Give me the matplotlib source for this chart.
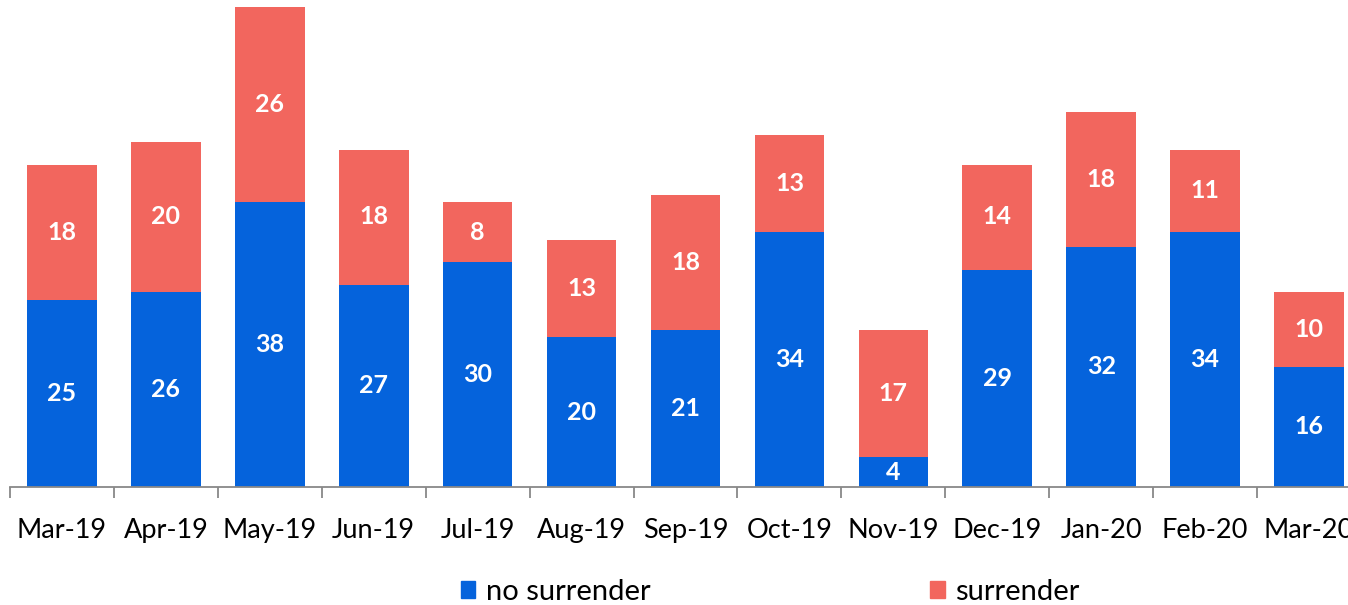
import matplotlib
matplotlib.use("Agg")
import matplotlib.pyplot as plt
from matplotlib.patches import Patch
import numpy as np

categories = ["Mar-19", "Apr-19", "May-19", "Jun-19", "Jul-19", "Aug-19", "Sep-19",
              "Oct-19", "Nov-19", "Dec-19", "Jan-20", "Feb-20", "Mar-20"]
no_surrender = [25, 26, 38, 27, 30, 20, 21, 34, 4, 29, 32, 34, 16]
surrender = [18, 20, 26, 18, 8, 13, 18, 13, 17, 14, 18, 11, 10]

BLUE = "#0563DC"
RED = "#F2665E"
FONT = ["Lato", "DejaVu Sans"]

W, H = 1348, 605
fig = plt.figure(figsize=(W / 100, H / 100), dpi=100)
left_px, right_px, bottom_px, top_px = 10, 1361, 487, 7
ax = fig.add_axes([left_px / W, (H - bottom_px) / H,
                   (right_px - left_px) / W, (bottom_px - top_px) / H])

x = np.arange(len(categories))
ax.bar(x, no_surrender, width=0.67, color=BLUE, label="no surrender")
ax.bar(x, surrender, width=0.67, bottom=no_surrender, color=RED, label="surrender")

for xi, a, b in zip(x, no_surrender, surrender):
    ax.text(xi, a / 2, str(a), ha="center", va="center", color="white",
            fontsize=18, fontweight="bold", family=FONT)
    ax.text(xi, a + b / 2, str(b), ha="center", va="center", color="white",
            fontsize=18, fontweight="bold", family=FONT)

ax.set_xlim(-0.5, len(categories) - 0.5)
ax.set_ylim(0, 64)
for s in ["top", "right", "left"]:
    ax.spines[s].set_visible(False)
ax.spines["bottom"].set_color("#888888")
ax.spines["bottom"].set_linewidth(1.3)
ax.set_yticks([])
ax.set_xticks(x)
ax.set_xticklabels(categories, family=FONT, fontsize=19.5)
ax.tick_params(axis="x", which="major", length=0, pad=22)
ax.set_xticks(np.arange(-0.5, len(categories), 1.0), minor=True)
ax.tick_params(axis="x", which="minor", length=8, width=1.3, color="#888888", direction="out")

handles = [Patch(color=BLUE, label="no surrender"), Patch(color=RED, label="surrender")]
fig.legend(handles=handles, loc="center", bbox_to_anchor=(770 / W, 1 - 592 / H), ncol=2,
           frameon=False, prop={"family": FONT, "size": 21}, handlelength=0.5,
           handleheight=0.5, handletextpad=0.35, columnspacing=9.6)

fig.savefig("out.png", dpi=100)
